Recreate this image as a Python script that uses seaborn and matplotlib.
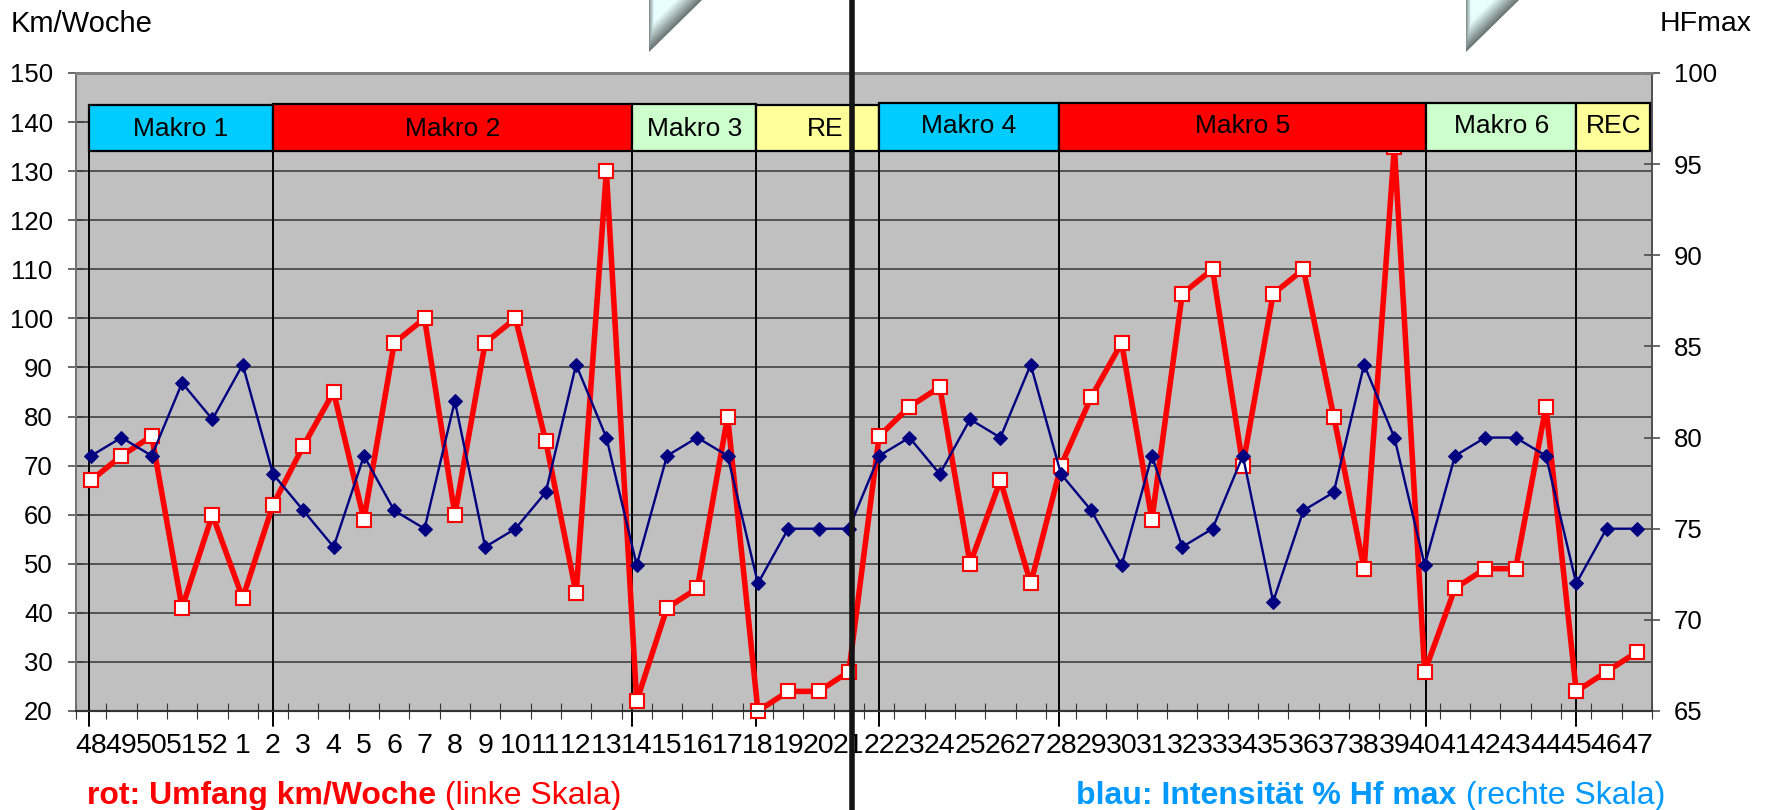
import numpy as np
import pandas as pd
import matplotlib
matplotlib.use("Agg")
import matplotlib.pyplot as plt
from matplotlib.patches import Polygon, Rectangle
from matplotlib.colors import to_rgb
import seaborn as sns

# Data
weeks = [48, 49, 50, 51, 52] + list(range(1, 48))
km_week = [67, 72, 76, 41, 60, 43, 62, 74, 85, 59, 95, 100, 60, 95, 100, 75, 44, 130, 22, 41,
           45, 80, 20, 24, 24, 28, 76, 82, 86, 50, 67, 46, 70, 84, 95, 59, 105, 110, 70, 105,
           110, 80, 49, 135, 28, 45, 49, 49, 82, 24, 28, 32]
hf_max = [79, 80, 79, 83, 81, 84, 78, 76, 74, 79, 76, 75, 82, 74, 75, 77, 84, 80, 73, 79,
          80, 79, 72, 75, 75, 75, 79, 80, 78, 81, 80, 84, 78, 76, 73, 79, 74, 75, 79, 71,
          76, 77, 84, 80, 73, 79, 80, 80, 79, 72, 75, 75]

# Blocks: label, first week, colour, top on the km scale
macro_names = ["Makro 1", "Makro 2", "Makro 3", "RE", "Makro 4", "Makro 5", "Makro 6", "REC"]
macro_start = [48, 2, 14, 18, 22, 28, 40, 45]
macro_colors = ["#00CCFF", "#FF0000", "#CCFFCC", "#FFFF99", "#00CCFF", "#FF0000", "#CCFFCC", "#FFFF99"]
macro_top = [143.5, 143.7, 143.6, 143.5, 143.9, 143.9, 143.9, 143.9]
macro_text_y = [138.5, 138.6, 138.5, 138.5, 139.3, 139.3, 139.3, 139.3]
macro_text_dx = [0, 0, 0, 0.23, 0, 0, 0, 0]
macro_shift = [-0.08, 0, -0.15, -0.05, 0, -0.07, 0.05, 0]
macro_bottom = 134.1

sns.set_theme(style="white")
plt.rcParams["font.family"] = ["Liberation Sans", "DejaVu Sans"]

df = pd.DataFrame({"pos": np.arange(len(weeks)), "week": weeks, "km": km_week, "hf": hf_max})
fig = plt.figure(figsize=(17.7, 8.1), dpi=100, facecolor="white")
ax = fig.add_axes([76 / 1770, 1 - 711 / 810, 1576 / 1770, 638 / 810])
ax.set_facecolor("#C0C0C0")
ax2 = ax.twinx()
ax2.patch.set_visible(False)

# Red series, left scale
sns.lineplot(data=df, x="pos", y="km", ax=ax, color="#FF0000", linewidth=4, marker="s",
             markersize=9.5, markerfacecolor="white", markeredgecolor="#FF0000",
             markeredgewidth=1.5, clip_on=False, zorder=4, errorbar=None)
# Blue series, right scale
sns.lineplot(data=df, x="pos", y="hf", ax=ax2, color="#000080", linewidth=1.7, marker="D",
             markersize=7.5, markerfacecolor="#000080", markeredgecolor="#000080",
             clip_on=False, zorder=4, errorbar=None)

ax.set_xlim(-0.5, len(weeks) - 0.5)
ax.set_ylim(20, 150)
ax2.set_ylim(65, 100)
ax.set_xlabel("")
ax.set_ylabel("")
ax2.set_ylabel("")

ax.set_yticks(range(20, 151, 10))
ax2.set_yticks(range(65, 101, 5))
ax.set_xticks(df["pos"], [str(w) for w in weeks])
ax.set_xticks(np.arange(-0.5, len(weeks)), minor=True)
ax.grid(False)
ax.grid(axis="y", color="#404040", linewidth=1.2)
ax.set_axisbelow(True)

ax.tick_params(axis="x", which="major", length=0, pad=15.5, labelsize=20.5, colors="black")
ax.tick_params(axis="x", which="minor", direction="inout", length=11.5, width=0.8, color="#333333", bottom=True)
ax.tick_params(axis="y", direction="inout", length=11.5, width=1.1, color="#404040",
               labelsize=18.5, labelcolor="black", pad=11, left=True)
ax2.tick_params(axis="y", direction="inout", length=11.5, width=1.1, color="#404040",
                labelsize=18.5, labelcolor="black", pad=10, right=True)

for a in (ax, ax2):
    a.spines["top"].set_color("#808080")
    a.spines["top"].set_linewidth(2)
    a.spines["left"].set_color("#707070")
    a.spines["left"].set_linewidth(1.2)
    a.spines["right"].set_color("#505050")
    a.spines["right"].set_linewidth(1.2)
    a.spines["bottom"].set_color("#333333")
    a.spines["bottom"].set_linewidth(1.5)

# Block boxes and the week lines under them
pos_of = {w: p for w, p in zip(weeks, df["pos"])}
starts = [pos_of[w] + d for w, d in zip(macro_start, macro_shift)]
ends = starts[1:] + [len(weeks) - 0.55]
for s in starts:
    ax.plot([s, s], [16.9, macro_bottom], color="black", linewidth=1.4, clip_on=False, zorder=3)
for name, s, e, col, top, ty, dx in zip(macro_names, starts, ends, macro_colors, macro_top,
                                        macro_text_y, macro_text_dx):
    ax2.add_patch(Rectangle((s, macro_bottom), e - s, top - macro_bottom, transform=ax.transData,
                            facecolor=col, edgecolor="black", linewidth=1.6, zorder=6))
    ax2.text((s + e) / 2 + dx, ty, name, transform=ax.transData, ha="center", va="center",
             fontsize=19, color="black", zorder=7)

# Overlay in figure pixels for captions, the heavy divider and the page corners
over = fig.add_axes([0, 0, 1, 1], zorder=10)
over.set_xlim(0, 1770)
over.set_ylim(810, 0)
over.axis("off")
over.patch.set_visible(False)

over.plot([852, 852], [0, 810], color="#141414", linewidth=4, solid_capstyle="butt", zorder=5)
over.text(11, 24, "Km/Woche", fontsize=21, va="center", ha="left", color="black")
over.text(1660, 24, "HFmax", fontsize=20.5, va="center", ha="left", color="black")

red_bold = over.text(87, 796, "rot: Umfang km/Woche", fontsize=23, fontweight="bold",
                     color="#FF0000", va="center", ha="left")
over.annotate(" (linke Skala)", xy=(1, 0), xycoords=red_bold, va="bottom", ha="left",
              fontsize=23, color="#FF0000")
blue_plain = over.text(1665, 796, " (rechte Skala)", fontsize=23, color="#0099FF", va="center", ha="right")
over.annotate("blau: Intensität % Hf max", xy=(0, 0), xycoords=blue_plain, va="bottom", ha="right",
              fontsize=23, fontweight="bold", color="#0099FF")

pale = np.array(to_rgb("#E8FFFF"))
dark = np.array(to_rgb("#66706F"))
for tip in (649, 1466):
    xs = np.arange(tip - 2, tip + 56)
    ys = np.arange(0, 55)
    gx, gy = np.meshgrid(xs + 0.5, ys + 0.5)
    d_hyp = ((tip + 53 - gx) - gy * 53 / 52) / np.hypot(1, 53 / 52)
    d_left = gx - tip
    shade = np.clip(np.minimum(d_hyp / 18, (d_left + 1) / 6), 0, 1)[..., None]
    rgb = dark + (pale - dark) * shade
    im = over.imshow(rgb, extent=(xs[0], xs[-1] + 1, ys[-1] + 1, ys[0]), aspect="auto", zorder=4,
                     interpolation="bilinear")
    clip = Polygon([(tip, 0), (tip + 53, 0), (tip, 52)], closed=True, transform=over.transData,
                   facecolor="none", edgecolor="none")
    over.add_patch(clip)
    im.set_clip_path(clip)
over.set_xlim(0, 1770)
over.set_ylim(810, 0)

fig.savefig("out.png", dpi=100)
